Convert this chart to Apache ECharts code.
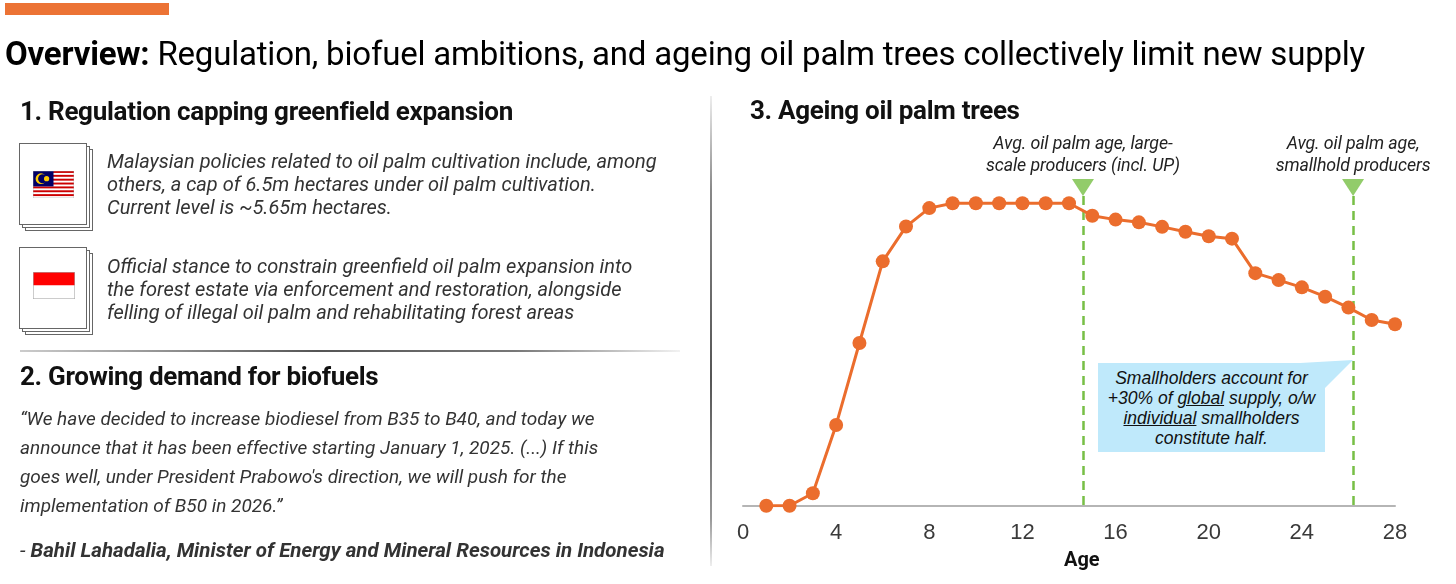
<!DOCTYPE html>
<html>
<head>
<meta charset="utf-8">
<script src="https://cdn.jsdelivr.net/npm/echarts@6/dist/echarts.min.js"></script>
<style>
  html, body { margin: 0; padding: 0; background: #fff; }
  #page { position: relative; width: 1456px; height: 584px; overflow: hidden; font-family: Roboto, "Liberation Sans", sans-serif; color: #222; }
  #chart { position: absolute; left: 0; top: 0; width: 1456px; height: 584px; }
  .abs { position: absolute; white-space: nowrap; }
  .bar { left: 5px; top: 3px; width: 164px; height: 12px; background: #ec7335; }
  .title { left: 5px; top: 35px; font-size: 33px; line-height: 38px; color: #000; letter-spacing: -0.2px; }
  .title b { font-weight: 700; }
  .h { font-size: 26px; line-height: 30px; font-weight: 700; color: #111; letter-spacing: -0.3px; }
  .body { font-size: 20px; line-height: 23px; font-style: italic; color: #333; }
  .quote { font-size: 19px; line-height: 29px; font-style: italic; color: #333; }
  .attr { font-size: 20.5px; line-height: 28px; font-style: italic; color: #333; }
  .page { position: absolute; width: 68px; height: 82px; background: #fff; border: 1px solid #666; box-sizing: border-box; }
  .vdiv { left: 710px; top: 96px; width: 2px; height: 470px; background: linear-gradient(to bottom, #eee, #888 20%, #555 60%, #999 90%, #eee); }
  .hdiv { left: 20px; top: 350px; width: 660px; height: 2px; background: linear-gradient(to right, #ccc, #555 45%, #777 75%, #f2f2f2); }
  .ann { font-size: 17.8px; line-height: 22px; font-style: italic; color: #222; text-align: center; transform: translateX(-50%); letter-spacing: -0.1px; }
  .callout { left: 1098px; top: 363px; width: 227px; height: 89px; background: #bfe9fb; }
  .callout-text { left: 1098px; top: 368px; width: 227px; font-family: "Liberation Sans", Arial, sans-serif; font-size: 17.5px; line-height: 20px; font-style: italic; color: #111; text-align: center; white-space: normal; }
</style>
</head>
<body>
<div id="page">
  <div id="chart"></div>

  <div class="abs bar"></div>
  <div class="abs title"><b>Overview:</b> Regulation, biofuel ambitions, and ageing oil palm trees collectively limit new supply</div>

  <div class="abs h" style="left:20px; top:96px;">1. Regulation capping greenfield expansion</div>

  <!-- stacked page icon, Malaysia -->
  <div class="page" style="left:25px; top:149px;"></div>
  <div class="page" style="left:22px; top:146px;"></div>
  <div class="page" style="left:19px; top:143px;"></div>
  <svg class="abs" style="left:33px; top:171px;" width="41" height="27" viewBox="0 0 41 27">
    <rect x="0" y="0" width="41" height="27" fill="#fff"/>
    <g fill="#cc0001">
      <rect x="0" y="0" width="41" height="1.93"/>
      <rect x="0" y="3.86" width="41" height="1.93"/>
      <rect x="0" y="7.71" width="41" height="1.93"/>
      <rect x="0" y="11.57" width="41" height="1.93"/>
      <rect x="0" y="15.43" width="41" height="1.93"/>
      <rect x="0" y="19.29" width="41" height="1.93"/>
      <rect x="0" y="23.14" width="41" height="1.93"/>
    </g>
    <rect x="0" y="0" width="20.5" height="15.4" fill="#010066"/>
    <circle cx="8" cy="7.7" r="5.4" fill="#ffcc00"/>
    <circle cx="9.6" cy="7.7" r="4.5" fill="#010066"/>
    <circle cx="13.6" cy="7.7" r="2.6" fill="#ffcc00"/>
    <rect x="0" y="0" width="41" height="27" fill="none" stroke="#aaa" stroke-width="0.6"/>
  </svg>
  <div class="abs body" style="left:107px; top:150px;">Malaysian policies related to oil palm cultivation include, among<br>others, a cap of 6.5m hectares under oil palm cultivation.<br>Current level is ~5.65m hectares.</div>

  <!-- stacked page icon, Indonesia -->
  <div class="page" style="left:25px; top:253px;"></div>
  <div class="page" style="left:22px; top:250px;"></div>
  <div class="page" style="left:19px; top:247px;"></div>
  <svg class="abs" style="left:33px; top:272px;" width="42" height="27" viewBox="0 0 42 27">
    <rect x="0" y="0" width="42" height="13.5" fill="#ff0000"/>
    <rect x="0" y="13.5" width="42" height="13.5" fill="#fff"/>
    <rect x="0.3" y="0.3" width="41.4" height="26.4" fill="none" stroke="#aaa" stroke-width="0.6"/>
  </svg>
  <div class="abs body" style="left:107px; top:255px;">Official stance to constrain greenfield oil palm expansion into<br>the forest estate via enforcement and restoration, alongside<br>felling of illegal oil palm and rehabilitating forest areas</div>

  <div class="abs hdiv"></div>
  <div class="abs h" style="left:20px; top:361px;">2. Growing demand for biofuels</div>
  <div class="abs quote" style="left:20px; top:404px;">“We have decided to increase biodiesel from B35 to B40, and today we<br>announce that it has been effective starting January 1, 2025. (...) If this<br>goes well, under President Prabowo's direction, we will push for the<br>implementation of B50 in 2026.”</div>
  <div class="abs attr" style="left:20px; top:536px;">- <b>Bahil Lahadalia, Minister of Energy and Mineral Resources in Indonesia</b></div>

  <div class="abs vdiv"></div>

  <div class="abs h" style="left:750px; top:95px;">3. Ageing oil palm trees</div>

  <div class="abs ann" id="ann0" style="top:132px;"></div>
  <div class="abs ann" id="ann1" style="top:132px;"></div>

  <svg class="abs" style="left:1290px; top:355px;" width="70" height="45">
    <polygon points="10,8 63,5 30,38" fill="#bfe9fb"/>
  </svg>
  <div class="abs callout"></div>
  <div class="abs callout-text">Smallholders account for<br>+30% of <u>global</u> supply, o/w<br><u>individual</u> smallholders<br>constitute half.</div>
</div>

<script>
// yield curve of an oil palm, relative to peak (%)
const ages = [1, 2, 3, 4, 5, 6, 7, 8, 9, 10, 11, 12, 13, 14,
              15, 16, 17, 18, 19, 20, 21, 22, 23, 24, 25, 26, 27, 28];
const yieldPct = [0, 0, 4.1, 26.7, 53.8, 80.8, 92.3, 98.4, 100, 100, 100, 100, 100, 100,
                  95.9, 94.6, 93.7, 92.2, 90.6, 89.1, 88.3, 76.9, 74.6, 72.2, 69.1, 65.5, 61.4, 60.0];

// average tree age markers
const avgAges = [14.6, 26.2];
const avgAgeLabels = [
  "Avg. oil palm age, large-<br>scale producers (incl. UP)",
  "Avg. oil palm age,<br>smallhold producers"
];

const xMin = 0, xMax = 28, xStep = 4;
const yMax = 120;
const lineTop = 102.4;
const triangleAt = 105.2;

const orange = "#eb6d2d";
const green = "#77bf45";

const chart = echarts.init(document.getElementById("chart"), null, { renderer: "canvas" });

const option = {
  animation: false,
  grid: { left: 743, right: 61, top: 142.8, bottom: 78.3 },
  xAxis: {
    type: "value",
    min: xMin,
    max: xMax,
    interval: xStep,
    axisLine: { lineStyle: { color: "#b5b5b5", width: 2 } },
    axisTick: { show: false },
    splitLine: { show: false },
    axisLabel: { fontSize: 22, color: "#3a3a3a", margin: 16, fontFamily: "Liberation Sans" }
  },
  yAxis: { type: "value", min: 0, max: yMax, show: false },
  graphic: [
    {
      type: "text",
      left: 1082 - 18,
      top: 551,
      style: { text: "Age", fontSize: 20, fontWeight: "bold", fill: "#111", fontFamily: "Roboto" }
    }
  ],
  series: [
    {
      name: "guides",
      type: "line",
      data: [],
      silent: true,
      markLine: {
        silent: true,
        symbol: ["none", "none"],
        label: { show: false },
        lineStyle: { color: green, width: 2.5, type: [9, 6] },
        data: avgAges.map((a) => [{ coord: [a, lineTop] }, { coord: [a, 0] }])
      }
    },
    {
      name: "markers",
      type: "scatter",
      symbol: "triangle",
      symbolRotate: 180,
      symbolSize: [22, 17],
      itemStyle: { color: green },
      silent: true,
      data: avgAges.map((a) => [a, triangleAt])
    },
    {
      name: "Yield",
      type: "line",
      z: 5,
      data: ages.map((a, i) => [a, yieldPct[i]]),
      symbol: "circle",
      symbolSize: 14,
      showAllSymbol: true,
      lineStyle: { color: orange, width: 3 },
      itemStyle: { color: orange }
    }
  ]
};
chart.setOption(option);

// place the marker captions over their guide lines
avgAges.forEach((a, i) => {
  const px = chart.convertToPixel({ gridIndex: 0 }, [a, 0])[0];
  const el = document.getElementById("ann" + i);
  el.innerHTML = avgAgeLabels[i];
  el.style.left = px + "px";
});
</script>
</body>
</html>
